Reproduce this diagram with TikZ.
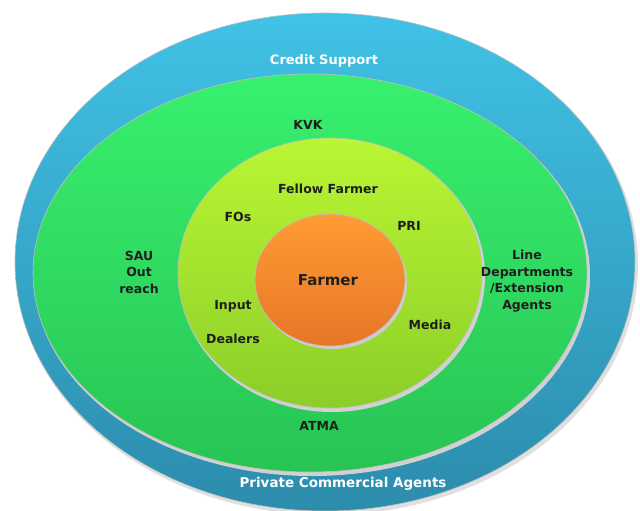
\documentclass[tikz,border=0pt]{standalone}
\usepackage{fontspec}
\setmainfont{DejaVu Sans}
\begin{document}
\begin{tikzpicture}[x=1pt,y=-1pt,
  lbl/.style={font=\bfseries\fontsize{12.5}{16.5}\selectfont, text=black!88, align=center, inner sep=0pt},
  wlbl/.style={lbl, text=white},
  ring/.style={draw=black!25, line width=0.6pt}]
\useasboundingbox (0,0) rectangle (640,511);
\clip (0,0) rectangle (640,511);
\fill[white] (0,0) rectangle (640,511);
% shadows
\fill[black!12] (327,265) ellipse [x radius=311, y radius=250];
\shade[ring, top color={rgb,255:red,64;green,194;blue,230}, bottom color={rgb,255:red,44;green,140;blue,172}] (325,262) ellipse [x radius=310, y radius=249];
\fill[black!18] (312,276) ellipse [x radius=278, y radius=200];
\shade[ring, top color={rgb,255:red,56;green,240;blue,110}, bottom color={rgb,255:red,40;green,196;blue,84}] (310,273) ellipse [x radius=277, y radius=199];
\fill[black!18] (332,276) ellipse [x radius=153, y radius=136];
\shade[ring, top color={rgb,255:red,186;green,246;blue,52}, bottom color={rgb,255:red,140;green,206;blue,40}] (330,273) ellipse [x radius=152, y radius=135];
\fill[black!20] (332,283) ellipse [x radius=75, y radius=66];
\shade[ring, top color={rgb,255:red,255;green,156;blue,50}, bottom color={rgb,255:red,230;green,118;blue,40}] (330,280) ellipse [x radius=75, y radius=66];
% labels
\node[wlbl, font=\bfseries\fontsize{13}{15}\selectfont] (credit) at (324,61) {Credit Support};
\node[wlbl, font=\bfseries\fontsize{13.5}{15}\selectfont] (private) at (343,484) {Private Commercial Agents};
\node[lbl] (kvk) at (308,125) {KVK};
\node[lbl] (atma) at (319,426) {ATMA};
\node[lbl] (sau) at (139,272) {SAU\\Out\\reach};
\node[lbl] (line) at (527,281) {Line\\Departments\\/Extension\\Agents};
\node[lbl] (fellow) at (328,189) {Fellow Farmer};
\node[lbl] (fos) at (238,217) {FOs};
\node[lbl] (pri) at (409,226) {PRI};
\node[lbl] (input) at (233,306) {Input};
\node[lbl] (dealers) at (233,339) {Dealers};
\node[lbl] (media) at (430,325) {Media};
\node[lbl, font=\bfseries\fontsize{15}{17}\selectfont] (farmer) at (328,280) {Farmer};
\end{tikzpicture}
\end{document}
